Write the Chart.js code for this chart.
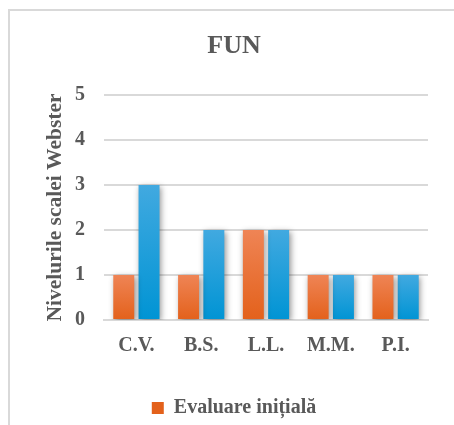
<!DOCTYPE html>
<html>
<head>
<meta charset="utf-8">
<script src="https://cdn.jsdelivr.net/npm/chart.js@4.4.1/dist/chart.umd.min.js"></script>
<style>
  html, body { margin: 0; padding: 0; background: #fff; overflow: hidden; width: 454px; height: 425px; }
  #frame { position: absolute; left: 8px; top: 9px; width: 470px; height: 440px;
           border: 2px solid #d9d9d9; box-sizing: border-box; }
  #wrap { position: absolute; left: 0; top: 0; width: 454px; height: 430px; }
</style>
</head>
<body>
<div id="frame"></div>
<div id="wrap"><canvas id="c" width="454" height="430"></canvas></div>
<script>
// Webster scale levels per patient
const categories = ['C.V.', 'B.S.', 'L.L.', 'M.M.', 'P.I.'];
const initialScores = [1, 1, 2, 1, 1];
const finalScores = [3, 2, 2, 1, 1];
const yTicks = [0, 1, 2, 3, 4, 5];

const textColor = '#595959';
const serif = '"Liberation Serif", "Times New Roman", serif';

// vertical gradient spanning each bar from its top down to the baseline
function barGradient(top, bottom) {
  return function (ctx) {
    const chart = ctx.chart;
    const y = chart.scales.y;
    if (!y || !ctx.parsed) return bottom;
    const yTop = y.getPixelForValue(ctx.parsed.y);
    const yBot = y.getPixelForValue(0);
    if (!Number.isFinite(yTop) || !Number.isFinite(yBot) || yTop === yBot) return bottom;
    const g = chart.ctx.createLinearGradient(0, yTop, 0, yBot);
    g.addColorStop(0, top);
    g.addColorStop(1, bottom);
    return g;
  };
}

// soft drop shadow under the bars
const barShadow = {
  id: 'barShadow',
  beforeDatasetsDraw(chart) {
    const c = chart.ctx;
    c.save();
    c.shadowColor = 'rgba(0,0,0,0.42)';
    c.shadowBlur = 6;
    c.shadowOffsetX = 1.5;
    c.shadowOffsetY = 1.5;
  },
  afterDatasetsDraw(chart) {
    chart.ctx.restore();
  }
};

new Chart(document.getElementById('c'), {
  type: 'bar',
  data: {
    labels: categories,
    datasets: [
      {
        label: 'Evaluare inițială',
        data: initialScores,
        backgroundColor: barGradient('#ef8455', '#e3611b'),
        categoryPercentage: 0.78,
        barPercentage: 0.83
      },
      {
        label: 'Evaluare finală',
        data: finalScores,
        backgroundColor: barGradient('#41a9e0', '#0094d4'),
        categoryPercentage: 0.78,
        barPercentage: 0.83
      }
    ]
  },
  options: {
    responsive: false,
    animation: false,
    layout: { padding: { left: 40, right: 26, top: 10, bottom: 2 } },
    plugins: {
      title: {
        display: true,
        text: 'FUN',
        color: textColor,
        font: { family: serif, size: 26, weight: 'bold' },
        padding: { top: 20.4, bottom: 33.4 }
      },
      legend: {
        position: 'bottom',
        labels: {
          filter: (item) => item.datasetIndex === 0,
          color: textColor,
          font: { family: serif, size: 20, weight: 'bold' },
          boxWidth: 12,
          boxHeight: 12,
          padding: 8
        }
      },
      tooltip: { enabled: false }
    },
    scales: {
      x: {
        afterFit: (scale) => { scale.height = 70; },
        grid: { display: false, drawTicks: false },
        border: { display: true, color: '#d9d9d9', width: 2 },
        ticks: {
          color: textColor,
          padding: 14,
          font: { family: serif, size: 20, weight: 'bold' }
        }
      },
      y: {
        min: 0,
        max: 5,
        afterFit: (scale) => { scale.width = 64; },
        afterBuildTicks: (axis) => { axis.ticks = yTicks.map(v => ({ value: v })); },
        grid: { color: '#d9d9d9', lineWidth: 2, drawTicks: false },
        border: { display: false },
        ticks: {
          color: textColor,
          padding: 19,
          font: { family: serif, size: 20, weight: 'bold' }
        },
        title: {
          display: true,
          text: 'Nivelurile scalei Webster',
          color: textColor,
          font: { family: serif, size: 21.5, weight: 'bold' },
          padding: { top: 3, bottom: 0 }
        }
      }
    }
  },
  plugins: [barShadow]
});
</script>
</body>
</html>
